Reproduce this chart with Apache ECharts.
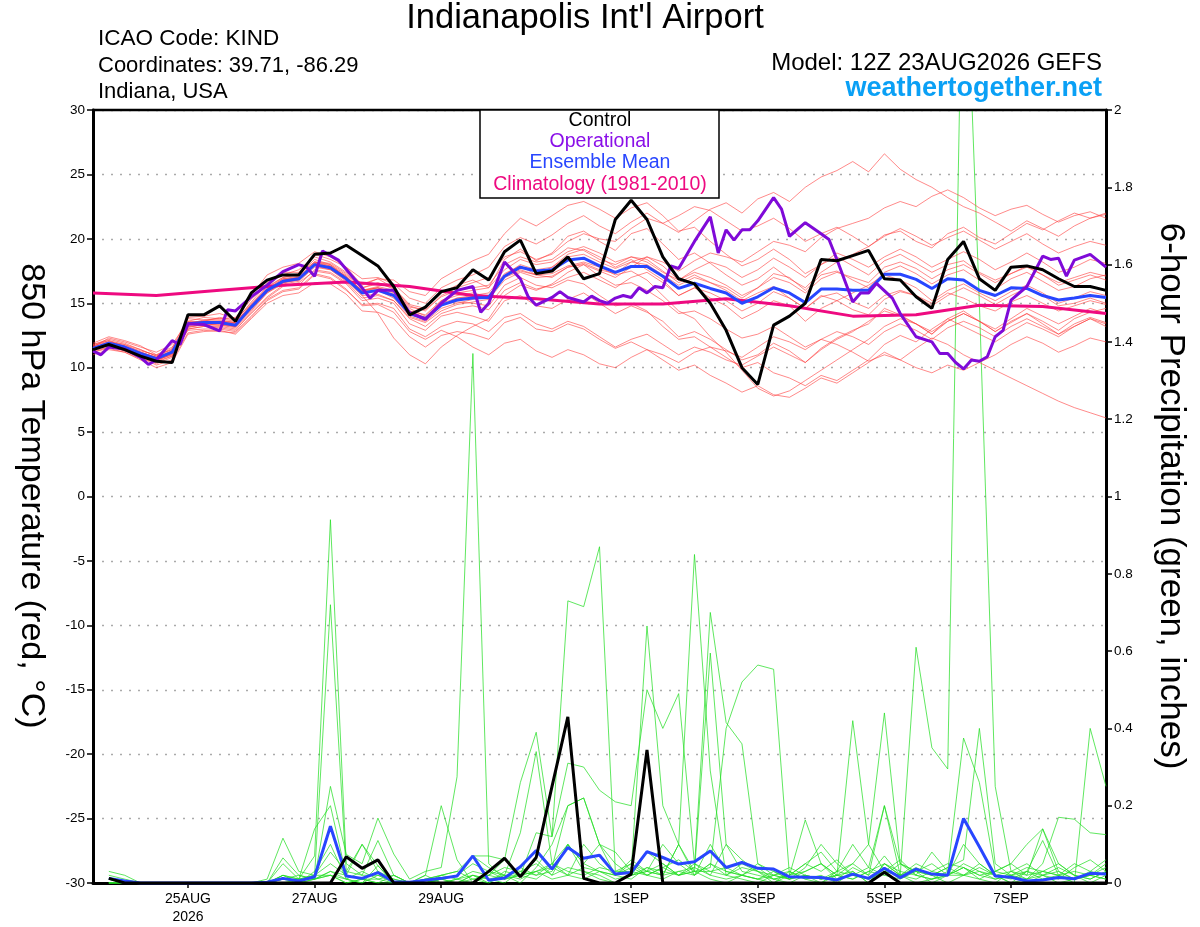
<!DOCTYPE html>
<html>
<head>
<meta charset="utf-8">
<script src="https://cdn.jsdelivr.net/npm/echarts@6/dist/echarts.min.js"></script>
<style>
html, body { margin: 0; padding: 0; background: #fff; }
#chart { width: 1200px; height: 927px; }
</style>
</head>
<body>
<div id="chart"></div>
<script>
// forecast hours from 12Z 23AUG2026, 6-hourly
const hours = [0, 6, 12, 18, 24, 30, 36, 42, 48, 54, 60, 66, 72, 78, 84, 90, 96, 102, 108, 114,
  120, 126, 132, 138, 144, 150, 156, 162, 168, 174, 180, 186, 192, 198, 204, 210, 216, 222, 228, 234,
  240, 246, 252, 258, 264, 270, 276, 282, 288, 294, 300, 306, 312, 318, 324, 330, 336, 342, 348, 354,
  360, 366, 372, 378, 384];

const tickHours = [36, 84, 132, 204, 252, 300, 348];
const tickLabels = ['25AUG\n2026', '27AUG', '29AUG', '1SEP', '3SEP', '5SEP', '7SEP'];

// 850 hPa temperature, deg C
const controlTemp = [
  11.4, 11.8, 11.4, 10.9, 10.5, 10.4, 14.1, 14.1,
  14.8, 13.6, 15.8, 16.8, 17.2, 17.2, 18.8, 18.9,
  19.5, 18.7, 17.9, 16.3, 14.1, 14.7, 15.9, 16.2,
  17.6, 16.8, 19.0, 19.9, 17.3, 17.5, 18.6, 16.9,
  17.3, 21.5, 23.0, 21.5, 18.6, 16.9, 16.5, 15.0,
  12.9, 10.0, 8.7, 13.3, 14.0, 15.0, 18.4, 18.3,
  18.7, 19.1, 16.9, 16.8, 15.5, 14.6, 18.4, 19.8,
  16.9, 16.0, 17.8, 17.9, 17.6, 16.9, 16.3, 16.3,
  16.0];

const meanTemp = [
  11.5, 11.9, 11.6, 11.1, 10.7, 11.2, 13.4, 13.5,
  13.5, 13.3, 14.7, 16.0, 16.7, 16.9, 18.0, 17.75,
  16.9, 15.8, 16.0, 15.6, 14.2, 13.8, 14.85, 15.25,
  15.4, 15.45, 17.1, 17.8, 17.5, 17.6, 18.35, 18.5,
  17.9, 17.4, 17.85, 17.85, 17.1, 16.15, 16.55, 16.15,
  15.8, 15.0, 15.5, 16.2, 15.8, 15.05, 16.1, 16.1,
  16.0, 16.0, 17.25, 17.25, 16.85, 16.15, 16.9, 16.8,
  16.0, 15.6, 16.2, 16.15, 15.6, 15.25, 15.4, 15.6,
  15.45];

// operational run has 3-hourly output
const opHours = [0, 3, 6, 12, 18, 21, 24, 30, 33, 36, 42, 48, 51, 54, 60, 66, 72, 78, 81, 84,
  87, 93, 99, 102, 105, 108, 114, 120, 126, 132, 138, 144, 147, 150, 156, 162, 165, 168, 174, 177,
  180, 186, 189, 192, 195, 198, 201, 204, 207, 210, 213, 216, 219, 222, 228, 234, 237, 240, 243, 246,
  249, 252, 258, 261, 264, 270, 276, 279, 282, 288, 291, 294, 297, 303, 306, 312, 318, 321, 324, 327,
  330, 333, 336, 339, 342, 345, 348, 354, 360, 363, 366, 369, 372, 378, 384];
const opTemp = [11.3, 11.0, 11.6, 11.45, 10.8, 10.25, 10.6, 12.1, 11.8, 13.4, 13.35, 12.85, 14.5, 14.4, 15.5, 16.4, 17.45, 18.0, 17.8, 17.1,
  19.05, 18.35, 16.9, 16.2, 15.4, 16.0, 16.0, 14.3, 13.75, 15.0, 16.0, 16.3, 14.3, 15.0, 18.2, 16.9, 15.5, 14.85, 15.45, 15.9,
  15.45, 15.1, 15.55, 15.2, 15.0, 15.4, 15.6, 15.45, 16.2, 15.8, 16.3, 16.2, 17.9, 17.7, 19.8, 21.7, 18.9, 20.7, 19.9, 20.7,
  20.7, 21.4, 23.2, 22.3, 20.2, 21.25, 20.4, 19.95, 18.4, 15.1, 15.8, 15.8, 16.55, 15.4, 14.2, 12.4, 12.0, 11.1, 11.1, 10.4,
  9.9, 10.6, 10.5, 10.85, 12.4, 12.9, 15.25, 16.3, 18.65, 18.4, 18.5, 17.1, 18.35, 18.8, 17.8];

// climatology, daily at 12Z
const climHours = [0, 24, 48, 72, 96, 120, 144, 168, 192, 216, 240, 264, 288, 312, 336, 360, 384];
const climTemp = [15.8, 15.6, 16.0, 16.4, 16.65, 16.3, 15.6, 15.35, 14.95, 14.95, 15.35, 14.8, 14.0, 14.1, 14.85, 14.75, 14.2];

// ensemble member temperatures
const memberTemps = [
  [11.8, 12.2, 11.9, 11.4, 10.9, 11.5, 13.9, 14.0, 14.2, 13.8, 15.6, 17.2, 17.8, 18.1, 19.0, 18.6,
   17.8, 16.9, 17.0, 16.5, 15.4, 15.0, 16.2, 16.8, 17.2, 17.8, 19.4, 20.1, 19.6, 20.3, 21.2, 21.8,
   21.0, 20.4, 21.3, 22.0, 21.2, 20.5, 21.4, 22.3, 22.8, 22.0, 23.1, 23.6, 22.9, 24.0, 24.8, 25.3,
   26.0, 25.2, 26.6, 25.4, 24.6, 24.0, 23.2, 22.5, 22.0, 21.3, 20.6, 21.4, 20.8, 20.2, 21.0, 21.6, 21.9],
  [11.2, 11.5, 11.2, 10.6, 10.0, 10.4, 12.6, 12.8, 12.9, 12.6, 13.8, 15.0, 15.6, 15.8, 16.6, 16.5,
   15.7, 14.4, 14.3, 13.8, 12.4, 11.6, 12.5, 12.8, 12.6, 12.2, 13.5, 13.9, 13.0, 12.8, 13.4, 13.0,
   12.2, 11.5, 12.0, 11.4, 10.6, 9.8, 10.2, 9.4, 8.8, 8.1, 8.6, 7.9, 7.7, 8.4, 9.2, 8.8,
   9.6, 10.4, 11.2, 10.6, 11.5, 12.3, 11.8, 11.0, 10.4, 9.8, 9.2, 8.6, 8.0, 7.4, 6.9, 6.5, 6.1],
  [11.6, 12.3, 12.0, 11.6, 11.2, 11.8, 13.6, 13.9, 13.8, 13.9, 15.3, 16.6, 17.4, 17.4, 18.8, 18.4,
   17.8, 16.4, 16.9, 16.2, 14.9, 14.6, 15.8, 16.4, 16.8, 16.2, 18.4, 19.2, 18.3, 18.9, 20.2, 20.6,
   19.8, 19.1, 20.4, 20.8, 19.6, 18.4, 18.9, 18.1, 17.2, 16.4, 16.9, 17.8, 16.9, 16.2, 17.4, 18.2,
   18.8, 19.4, 20.3, 20.6, 19.8, 19.3, 20.4, 20.9, 20.1, 19.6, 20.4, 21.2, 20.7, 21.4, 22.0, 21.6, 22.0],
  [11.3, 11.6, 11.4, 10.9, 10.3, 10.8, 13.0, 13.2, 13.2, 13.0, 14.2, 15.4, 16.3, 16.6, 17.5, 17.3,
   16.5, 15.2, 15.4, 15.0, 13.4, 12.9, 14.0, 14.3, 14.0, 13.6, 15.2, 15.6, 14.8, 14.6, 15.3, 15.8,
   15.0, 14.2, 14.8, 14.3, 13.6, 12.4, 12.8, 12.2, 11.4, 10.6, 11.0, 11.9, 11.3, 10.4, 11.5, 12.3,
   12.9, 13.4, 14.6, 14.1, 13.4, 12.6, 13.8, 14.4, 13.6, 12.8, 13.5, 14.2, 13.6, 12.9, 13.8, 14.3, 14.6],
  [11.9, 12.4, 12.1, 11.7, 11.0, 11.4, 13.5, 13.6, 13.6, 13.5, 14.9, 16.3, 17.0, 17.2, 18.4, 18.0,
   17.0, 15.6, 14.2, 12.3, 11.0, 10.3, 11.6, 12.5, 13.2, 13.8, 15.6, 16.4, 16.0, 16.5, 17.4, 18.0,
   17.5, 17.0, 17.8, 18.6, 17.9, 16.8, 17.4, 17.0, 16.4, 15.6, 16.2, 17.3, 17.0, 16.0, 17.2, 17.5,
   16.8, 16.2, 17.4, 17.9, 17.3, 16.5, 17.2, 17.6, 16.8, 16.1, 16.9, 17.4, 16.7, 16.0, 16.3, 16.9, 17.2],
  [11.4, 11.8, 11.5, 11.2, 10.8, 11.3, 13.8, 13.7, 13.8, 13.6, 15.1, 16.5, 17.2, 17.6, 18.6, 18.2,
   17.4, 16.5, 16.9, 16.8, 15.9, 15.6, 16.9, 17.6, 18.3, 18.8, 20.4, 21.6, 21.0, 21.8, 22.6, 22.9,
   22.3, 21.6, 22.4, 22.8, 21.8, 20.6, 20.9, 19.8, 18.8, 17.9, 18.4, 19.2, 18.4, 17.3, 18.0, 18.6,
   17.9, 17.2, 18.3, 18.8, 18.1, 17.4, 18.0, 18.3, 17.4, 16.8, 17.3, 17.9, 17.2, 16.6, 17.0, 17.4, 17.1],
  [11.0, 11.4, 11.2, 10.7, 10.4, 10.9, 12.9, 13.0, 13.0, 12.8, 14.0, 15.3, 16.0, 16.2, 17.3, 17.0,
   16.1, 14.8, 14.9, 14.3, 12.8, 12.2, 12.9, 12.4, 11.6, 11.0, 11.9, 12.2, 11.3, 10.8, 11.4, 11.0,
   10.3, 10.0, 10.8, 11.4, 11.0, 10.4, 11.2, 11.6, 11.3, 10.8, 11.6, 12.4, 12.0, 11.4, 12.2, 12.8,
   12.4, 11.8, 12.8, 13.4, 12.9, 12.2, 13.1, 13.6, 13.1, 12.4, 13.2, 13.8, 13.2, 12.6, 13.4, 13.9, 13.5],
  [11.7, 12.0, 11.7, 11.3, 11.0, 11.6, 13.3, 13.6, 13.9, 13.7, 15.0, 16.2, 17.0, 17.3, 18.2, 18.1,
   17.3, 16.2, 16.6, 16.1, 14.7, 14.5, 15.5, 16.0, 16.2, 16.4, 18.0, 18.6, 18.2, 18.4, 19.3, 19.1,
   18.4, 18.0, 18.6, 18.4, 17.5, 16.6, 17.2, 16.6, 16.0, 15.2, 15.8, 16.3, 15.4, 14.6, 15.6, 15.2,
   14.5, 14.1, 15.3, 15.9, 15.6, 15.0, 15.8, 15.4, 14.8, 14.4, 15.1, 15.6, 15.0, 14.4, 14.8, 15.2, 14.9],
  [11.5, 11.7, 11.3, 10.9, 10.6, 11.0, 13.1, 13.4, 13.3, 13.1, 14.4, 15.8, 16.5, 16.7, 17.8, 17.6,
   16.7, 15.6, 15.7, 15.2, 13.9, 13.5, 14.4, 14.9, 15.1, 15.3, 16.8, 17.4, 17.0, 17.1, 17.8, 18.1,
   17.6, 17.3, 18.2, 18.6, 18.2, 17.5, 18.3, 18.9, 18.6, 18.2, 19.0, 19.8, 19.5, 19.0, 20.1, 20.8,
   21.2, 21.6, 22.4, 22.9, 22.5, 23.3, 23.8, 23.2, 22.4, 21.8, 22.3, 22.6, 21.9, 21.3, 21.8, 22.1, 21.6],
  [11.8, 12.1, 11.8, 11.2, 10.8, 11.1, 13.2, 13.3, 13.4, 13.2, 14.6, 15.9, 16.6, 16.8, 17.9, 17.6,
   16.8, 15.9, 16.2, 15.9, 14.4, 13.9, 15.0, 15.4, 15.6, 15.8, 17.3, 17.9, 17.2, 17.0, 17.8, 18.0,
   17.1, 16.4, 16.6, 16.0, 15.2, 14.2, 14.4, 13.8, 13.0, 12.3, 12.6, 13.2, 12.4, 11.6, 12.2, 11.8,
   11.2, 10.5, 11.0, 10.6, 10.0, 9.6, 10.2, 9.8, 10.4, 11.0, 11.8, 12.4, 11.9, 11.2, 11.7, 12.3, 12.0],
  [11.3, 11.9, 11.7, 11.0, 10.6, 11.0, 13.5, 13.6, 13.4, 13.2, 14.8, 16.1, 16.9, 17.0, 18.2, 17.9,
   17.0, 16.0, 16.3, 16.0, 14.6, 14.0, 15.2, 15.8, 16.0, 16.2, 17.6, 18.4, 18.0, 18.2, 19.0, 19.4,
   18.9, 18.2, 18.6, 18.2, 17.4, 16.8, 17.6, 18.2, 17.8, 17.0, 17.6, 18.5, 17.8, 17.0, 18.0, 18.9,
   18.4, 17.8, 18.6, 19.2, 18.6, 17.8, 18.4, 19.0, 18.4, 17.6, 18.2, 18.9, 18.2, 17.4, 17.8, 18.4, 18.1],
  [11.6, 11.9, 11.5, 11.0, 10.5, 11.1, 13.3, 13.4, 13.5, 13.4, 14.7, 15.9, 16.8, 17.0, 18.0, 17.8,
   17.0, 16.0, 16.2, 15.6, 14.2, 13.9, 14.9, 15.1, 15.0, 14.8, 16.4, 17.0, 16.4, 16.2, 16.8, 16.5,
   15.6, 14.8, 15.0, 14.4, 13.2, 12.2, 12.4, 11.6, 10.8, 10.0, 10.4, 9.6, 9.2, 8.6, 9.4, 9.0,
   9.8, 10.6, 11.8, 12.5, 12.0, 13.0, 13.8, 13.2, 12.6, 12.0, 12.8, 13.5, 13.0, 12.4, 13.2, 13.8, 13.4],
  [11.4, 11.8, 11.6, 11.2, 10.8, 11.3, 13.6, 13.5, 13.6, 13.5, 14.8, 16.0, 16.6, 16.9, 18.1, 17.8,
   17.1, 16.0, 16.2, 15.8, 14.4, 14.1, 15.2, 15.6, 15.8, 15.5, 17.0, 17.5, 17.2, 17.8, 18.8, 19.2,
   18.6, 17.8, 18.4, 17.6, 16.8, 15.6, 16.2, 15.4, 14.8, 13.8, 14.4, 15.2, 14.8, 13.6, 14.6, 15.2,
   15.8, 16.4, 17.2, 16.8, 16.2, 15.2, 16.0, 16.5, 15.8, 15.2, 15.9, 16.4, 15.8, 15.0, 15.4, 15.9, 15.6],
  [11.5, 12.0, 11.8, 11.4, 10.9, 11.4, 13.4, 13.7, 13.7, 13.5, 14.9, 16.1, 16.9, 17.1, 18.2, 18.0,
   17.2, 16.2, 16.5, 16.2, 14.8, 14.4, 15.6, 16.2, 16.6, 17.0, 18.6, 19.0, 18.4, 18.8, 19.8, 20.4,
   20.0, 19.8, 20.8, 21.6, 21.2, 21.8, 22.5, 22.2, 21.4, 20.6, 21.0, 21.6, 20.8, 19.8, 20.4, 20.9,
   20.2, 19.4, 20.2, 20.8, 20.2, 19.5, 20.1, 20.6, 19.9, 19.2, 19.8, 20.4, 19.6, 18.9, 19.4, 19.8, 19.5],
  [11.7, 12.1, 11.6, 11.0, 10.5, 10.9, 13.0, 13.2, 13.1, 12.9, 14.3, 15.5, 16.4, 16.4, 17.6, 17.4,
   16.6, 15.4, 15.6, 15.2, 13.8, 13.2, 14.2, 14.6, 14.8, 14.5, 16.0, 16.6, 16.1, 16.4, 17.0, 17.4,
   16.8, 16.2, 17.0, 17.4, 16.6, 15.6, 16.2, 15.8, 15.2, 14.4, 15.0, 15.9, 15.4, 14.6, 15.5, 15.8,
   15.1, 14.6, 15.6, 16.0, 15.6, 14.8, 15.6, 16.2, 15.6, 14.9, 15.6, 16.2, 15.6, 14.8, 15.0, 15.4, 15.0],
  [11.2, 11.6, 11.3, 10.8, 10.2, 10.6, 12.7, 12.9, 12.8, 12.7, 13.9, 15.2, 15.9, 16.1, 17.2, 16.9,
   16.0, 14.9, 15.0, 14.6, 13.0, 12.4, 13.2, 13.6, 13.4, 12.8, 13.9, 14.2, 13.4, 13.0, 13.6, 13.2,
   12.4, 11.6, 12.2, 12.6, 11.8, 11.0, 11.6, 11.2, 10.6, 10.2, 10.9, 11.6, 11.0, 10.4, 11.4, 12.2,
   12.8, 13.6, 14.4, 14.0, 13.4, 12.6, 13.6, 14.2, 13.6, 12.8, 13.6, 14.2, 13.4, 12.6, 13.2, 13.8, 13.2],
  [11.6, 11.9, 11.6, 11.1, 10.6, 11.1, 13.4, 13.6, 13.6, 13.4, 14.7, 16.0, 16.8, 17.0, 18.1, 17.9,
   17.1, 15.9, 16.1, 15.7, 14.3, 13.9, 14.8, 15.4, 15.5, 15.6, 17.1, 17.6, 17.2, 17.3, 17.9, 18.2,
   17.8, 17.2, 17.5, 16.8, 15.6, 14.4, 13.8, 12.4, 11.2, 9.8, 8.4, 7.8, 8.2, 9.0, 9.8, 10.6,
   11.4, 12.2, 13.2, 13.8, 13.4, 12.8, 13.6, 14.2, 13.6, 13.0, 13.8, 14.6, 14.0, 13.4, 14.0, 14.6, 14.2],
  [11.5, 11.8, 11.4, 11.0, 10.7, 11.2, 13.2, 13.3, 13.3, 13.2, 14.5, 15.8, 16.6, 16.8, 17.9, 17.7,
   16.9, 15.8, 16.0, 15.4, 14.0, 13.6, 14.6, 15.0, 15.3, 15.6, 17.2, 18.0, 17.6, 17.8, 18.6, 18.8,
   18.2, 17.7, 18.2, 18.0, 17.2, 16.4, 17.0, 16.6, 16.2, 15.4, 16.2, 17.0, 16.6, 15.8, 16.9, 17.4,
   17.0, 16.6, 17.8, 18.2, 17.7, 16.9, 17.6, 18.0, 17.3, 16.6, 17.3, 17.8, 17.2, 16.4, 16.8, 17.2, 16.8]
];

// 6-hour precipitation, inches (no value at hour 0)
const controlPrecip = [null,
  0.012, 0, 0, 0, 0, 0, 0, 0,
  0, 0, 0, 0, 0, 0, 0, 0.068,
  0.038, 0.06, 0, 0, 0, 0, 0, 0,
  0.03, 0.064, 0.016, 0.066, 0.25, 0.43, 0.012, 0,
  0, 0.023, 0.344, 0, 0, 0, 0, 0,
  0, 0, 0, 0, 0, 0, 0, 0,
  0, 0.028, 0, 0, 0, 0, 0, 0,
  0, 0, 0, 0, 0, 0, 0, 0];

const meanPrecip = [null,
  0.012, 0.005, 0, 0, 0, 0, 0, 0,
  0, 0, 0.002, 0.012, 0.005, 0.016, 0.147, 0.018,
  0.012, 0.027, 0.003, 0.002, 0.007, 0.012, 0.018, 0.07,
  0.007, 0.013, 0.042, 0.084, 0.036, 0.092, 0.064, 0.072,
  0.023, 0.027, 0.081, 0.066, 0.049, 0.055, 0.083, 0.04,
  0.053, 0.038, 0.036, 0.016, 0.015, 0.014, 0.008, 0.023,
  0.012, 0.038, 0.014, 0.036, 0.023, 0.02, 0.167, 0.094,
  0.018, 0.015, 0.005, 0.008, 0.014, 0.011, 0.025, 0.023];

const memberPrecip = [
  [null, 0.03, 0.02, 0, 0, 0, 0, 0, 0, 0, 0, 0, 0.02, 0.01, 0.07, 0.94, 0.05,
   0.02, 0.11, 0.02, 0, 0, 0.01, 0.02, 0.07, 0.04, 0.02, 0.13, 0.34, 0.05, 0.1, 0.03, 0.02,
   0, 0.02, 0.08, 0.05, 0.02, 0.03, 0.01, 0, 0.02, 0.01, 0, 0.02, 0.163, 0.05, 0.01, 0.04,
   0.02, 0.07, 0.02, 0.04, 0.02, 0, 0.02, 0.05, 0.02, 0, 0.01, 0.05, 0.17, 0.165, 0.13, 0.125],
  [null, 0.02, 0.01, 0, 0, 0, 0, 0, 0, 0, 0, 0.01, 0.116, 0.03, 0.02, 0.72, 0.03,
   0.1, 0.045, 0, 0, 0.02, 0.2, 0.06, 0, 0.02, 0.06, 0.02, 0.13, 0.12, 0.31, 0.3, 0.24,
   0.21, 0.2, 0.5, 0.4, 0.49, 0.05, 0.02, 0.1, 0.03, 0.02, 0.01, 0, 0.02, 0, 0.03, 0.1,
   0.04, 0.2, 0.05, 0.02, 0.01, 0.03, 0.375, 0.26, 0.03, 0.02, 0, 0.02, 0.03, 0.01, 0.02, 0.01],
  [null, 0, 0, 0, 0, 0, 0, 0, 0, 0, 0, 0, 0.065, 0.02, 0.01, 0.25, 0.074,
   0.05, 0.168, 0.075, 0.01, 0.03, 0.04, 0.275, 1.37, 0.05, 0.01, 0.02, 0.03, 0.04, 0.2, 0.22, 0.1,
   0.05, 0.02, 0.03, 0.1, 0.05, 0.02, 0.1, 0.03, 0.02, 0.05, 0.03, 0.01, 0.02, 0.01, 0.02, 0.42,
   0.1, 0.03, 0.02, 0, 0.01, 0.02, 0.04, 0.01, 0, 0.03, 0.01, 0.02, 0, 0.01, 0.03, 0.06],
  [null, 0, 0, 0, 0, 0, 0, 0, 0, 0, 0, 0, 0.05, 0.01, 0.14, 0.2, 0.02,
   0.1, 0.03, 0.01, 0, 0.01, 0.02, 0.03, 0.07, 0.07, 0.06, 0.26, 0.39, 0.12, 0.73, 0.715, 0.87,
   0.03, 0.03, 0.02, 0.04, 0.02, 0.03, 0.595, 0.1, 0.06, 0.03, 0, 0.03, 0.01, 0.02, 0, 0.03,
   0, 0.05, 0.02, 0.03, 0, 0.02, 0.1, 0.05, 0.02, 0, 0.03, 0.11, 0.02, 0, 0.4, 0.25],
  [null, 0.01, 0, 0, 0, 0, 0, 0, 0, 0, 0, 0, 0.02, 0, 0.03, 0.1, 0.01,
   0, 0.045, 0, 0, 0, 0.01, 0, 0.02, 0, 0.03, 0.02, 0.06, 0.02, 0.1, 0.05, 0.1,
   0.02, 0.05, 0.03, 0.02, 0.1, 0.02, 0.05, 0.02, 0.01, 0, 0.02, 0.03, 0.01, 0, 0.02, 0.03,
   0, 0.05, 0.02, 0.61, 0.35, 0.295, 2.6, 1.5, 0.25, 0.03, 0.02, 0.03, 0.05, 0.02, 0, 0.02],
  [null, 0, 0, 0, 0, 0, 0, 0, 0, 0, 0, 0, 0.01, 0.01, 0.02, 0.08, 0.03,
   0.02, 0.02, 0, 0, 0.02, 0, 0.01, 0, 0.03, 0.02, 0, 0.04, 0.1, 0.2, 0.22, 0.1,
   0.08, 0.03, 0.665, 0.2, 0.1, 0.03, 0.03, 0.04, 0.02, 0.04, 0.01, 0.02, 0.05, 0.03, 0.06, 0.02,
   0.01, 0.03, 0.06, 0.02, 0.08, 0.03, 0.02, 0.04, 0.02, 0.03, 0.05, 0.02, 0.01, 0.04, 0.06, 0.03],
  [null, 0, 0, 0, 0, 0, 0, 0, 0, 0, 0, 0, 0, 0, 0.02, 0.05, 0.02,
   0.01, 0.03, 0, 0, 0, 0, 0, 0.02, 0.01, 0, 0.03, 0.05, 0.02, 0.04, 0.03, 0.01,
   0, 0.02, 0.04, 0.02, 0.1, 0.85, 0.29, 0.02, 0.05, 0.03, 0.02, 0.01, 0.03, 0.05, 0.02, 0.01,
   0.03, 0.02, 0.05, 0.03, 0.02, 0.04, 0.02, 0.01, 0.03, 0.05, 0.02, 0.14, 0.03, 0.01, 0.02, 0.04],
  [null, 0, 0, 0, 0, 0, 0, 0, 0, 0, 0, 0, 0, 0.01, 0.01, 0.03, 0.01,
   0.03, 0.01, 0.02, 0, 0, 0.01, 0.02, 0.05, 0.03, 0.01, 0.02, 0.03, 0.05, 0.02, 0.1, 0.05,
   0.02, 0.06, 0.03, 0.02, 0.03, 0.04, 0.7, 0.415, 0.36, 0.05, 0.02, 0.04, 0.02, 0.01, 0.03, 0.02,
   0.04, 0.02, 0.01, 0.03, 0.05, 0.02, 0.04, 0.02, 0.01, 0.02, 0.04, 0.03, 0.02, 0.05, 0.03, 0.02],
  [null, 0, 0, 0, 0, 0, 0, 0, 0, 0, 0, 0, 0.02, 0.01, 0.02, 0.02, 0,
   0.01, 0, 0.02, 0, 0.01, 0.02, 0.01, 0.03, 0.02, 0.04, 0.03, 0.02, 0.05, 0.03, 0.02, 0.04,
   0.03, 0.05, 0.02, 0.04, 0.06, 0.03, 0.04, 0.4, 0.52, 0.564, 0.553, 0.02, 0.03, 0.05, 0.02, 0.01,
   0.03, 0.05, 0.03, 0.02, 0.01, 0.02, 0.05, 0.03, 0.02, 0.01, 0.03, 0.02, 0.04, 0.02, 0.01, 0.03],
  [null, 0, 0, 0, 0, 0, 0, 0, 0, 0, 0, 0, 0, 0, 0.01, 0.02, 0.01,
   0, 0.02, 0.01, 0, 0, 0.02, 0.03, 0.01, 0.02, 0.01, 0.04, 0.02, 0.03, 0.1, 0.05, 0.03,
   0.02, 0.01, 0.04, 0.03, 0.02, 0.05, 0.03, 0.02, 0.04, 0.03, 0.01, 0.02, 0.05, 0.08, 0.03, 0.05,
   0.1, 0.44, 0.05, 0.03, 0.02, 0.04, 0.06, 0.4, 0.05, 0.02, 0.01, 0.03, 0.02, 0.01, 0.02, 0.05],
  [null, 0, 0, 0, 0, 0, 0, 0, 0, 0, 0, 0, 0.01, 0, 0.01, 0.02, 0,
   0.01, 0, 0, 0, 0, 0.01, 0, 0.01, 0, 0.02, 0.01, 0.03, 0.01, 0.02, 0.04, 0.03,
   0.01, 0.02, 0.03, 0.05, 0.02, 0.04, 0.02, 0.01, 0.02, 0.01, 0.03, 0.01, 0.04, 0.1, 0.05, 0.02,
   0.01, 0.03, 0.02, 0.05, 0.03, 0.05, 0.04, 0.02, 0.03, 0.05, 0.1, 0.14, 0.05, 0.02, 0.01, 0.03],
  [null, 0.01, 0, 0, 0, 0, 0, 0, 0, 0, 0, 0, 0.01, 0.02, 0.01, 0.03, 0.02,
   0.01, 0.01, 0, 0, 0.01, 0, 0.01, 0.02, 0.01, 0.02, 0.02, 0.01, 0.04, 0.02, 0.01, 0.03,
   0.02, 0.04, 0.02, 0.01, 0.03, 0.02, 0.05, 0.03, 0.02, 0.01, 0.02, 0.01, 0.02, 0.01, 0.02, 0.05,
   0.02, 0.2, 0.02, 0.01, 0.03, 0.02, 0.02, 0.03, 0.01, 0.02, 0.03, 0.01, 0.02, 0.03, 0.02, 0.01]
];

const FONT = '"Liberation Sans", Arial, Helvetica, sans-serif';

function pairs(xs, ys) {
  let out = [];
  for (let i = 0; i < xs.length; ++i) {
    if (ys[i] === null || ys[i] === undefined) continue;
    out.push([xs[i], ys[i]]);
  }
  return out;
}

function thinLine(data, axis, color, opacity) {
  return {
    type: 'line', yAxisIndex: axis, data: data,
    showSymbol: false, silent: true,
    lineStyle: { color: color, width: 0.8, opacity: opacity }
  };
}

function thickLine(data, axis, color) {
  return {
    type: 'line', yAxisIndex: axis, data: data,
    showSymbol: false, silent: true,
    lineStyle: { color: color, width: 3 }
  };
}

function label(text, x, y, size, color, align, extra) {
  let el = {
    type: 'text', x: x, y: y, z: 101,
    style: { text: text, fontSize: size, fontFamily: FONT, fill: color, align: align, verticalAlign: 'middle' }
  };
  return Object.assign(el, extra || {});
}

let series = [];
memberPrecip.forEach(m => series.push(thinLine(pairs(hours, m), 1, '#22dd22', 0.9)));
memberTemps.forEach(m => series.push(thinLine(pairs(hours, m), 0, '#ff3b3b', 0.75)));
series.push(thickLine(pairs(hours, meanPrecip), 1, '#2846ff'));
series.push(thickLine(pairs(hours, controlPrecip), 1, '#000000'));
series.push(thickLine(pairs(climHours, climTemp), 0, '#ee0a80'));
series.push(thickLine(pairs(hours, meanTemp), 0, '#2846ff'));
series.push(thickLine(pairs(opHours, opTemp), 0, '#7f0ad8'));
series.push(thickLine(pairs(hours, controlTemp), 0, '#000000'));

let chart = echarts.init(document.getElementById('chart'));

let option = {
  animation: false,
  backgroundColor: '#ffffff',
  textStyle: { fontFamily: FONT },
  grid: {
    left: 93, right: 94, top: 110, bottom: 44,
    outerBoundsMode: 'none'
  },
  xAxis: {
    type: 'value', min: 0, max: 384,
    axisLine: { show: true, onZero: false, lineStyle: { color: '#000', width: 3 } },
    axisTick: { show: true, customValues: tickHours, length: 5, lineStyle: { color: '#000', width: 1.5 } },
    axisLabel: {
      customValues: tickHours, color: '#000', fontSize: 14, fontFamily: FONT,
      margin: 7, lineHeight: 18,
      formatter: v => tickLabels[tickHours.indexOf(v)]
    },
    splitLine: { show: false }
  },
  yAxis: [
    {
      type: 'value', min: -30, max: 30, interval: 5, position: 'left',
      axisLine: { show: true, lineStyle: { color: '#000', width: 3 } },
      axisTick: { show: true, length: 6, lineStyle: { color: '#000', width: 1.5 } },
      axisLabel: { color: '#000', fontSize: 13.5, fontFamily: FONT, margin: 8 },
      splitLine: { show: true, lineStyle: { color: '#aaaaaa', width: 1.3, type: [2, 7] } }
    },
    {
      type: 'value', min: 0, max: 2, interval: 0.2, position: 'right',
      axisLine: { show: true, lineStyle: { color: '#000', width: 3 } },
      axisTick: { show: true, length: 6, lineStyle: { color: '#000', width: 1.5 } },
      axisLabel: { color: '#000', fontSize: 13.5, fontFamily: FONT, margin: 8 },
      splitLine: { show: false }
    }
  ],
  graphic: [
    // top frame edge, drawn over the 30-degree grid line
    { type: 'line', z: 100, shape: { x1: 92, y1: 110, x2: 1107, y2: 110 }, style: { stroke: '#000', lineWidth: 2.5 } },
    label("Indianapolis Int'l Airport", 585, 18, 34.5, '#000', 'center'),
    label('ICAO Code: KIND', 98, 39, 22.5, '#000', 'left'),
    label('Coordinates: 39.71, -86.29', 98, 66, 22, '#000', 'left'),
    label('Indiana, USA', 98, 92, 22, '#000', 'left'),
    label('Model: 12Z 23AUG2026 GEFS', 1102, 63, 24, '#000', 'right'),
    label('weathertogether.net', 1102, 89, 27, '#0aa0f5', 'right'),
    label('850 hPa Temperature (red, °C)', 31, 496, 34, '#000', 'center', { rotation: -Math.PI / 2 }),
    label('6-hour Precipitation (green, inches)', 1171, 496, 35, '#000', 'center', { rotation: -Math.PI / 2 }),
    { type: 'rect', z: 100,
      shape: { x: 480, y: 110, width: 239, height: 88 },
      style: { fill: '#fff', stroke: '#000', lineWidth: 1.5 } },
    label('Control', 600, 121, 19.5, '#000', 'center'),
    label('Operational', 600, 142, 19.5, '#8a10e8', 'center'),
    label('Ensemble Mean', 600, 163, 19.5, '#2846ff', 'center'),
    label('Climatology (1981-2010)', 600, 185, 19.5, '#ee0a80', 'center')
  ],
  series: series
};
option.graphic[6].style.fontWeight = 'bold';

chart.setOption(option);
</script>
</body>
</html>
